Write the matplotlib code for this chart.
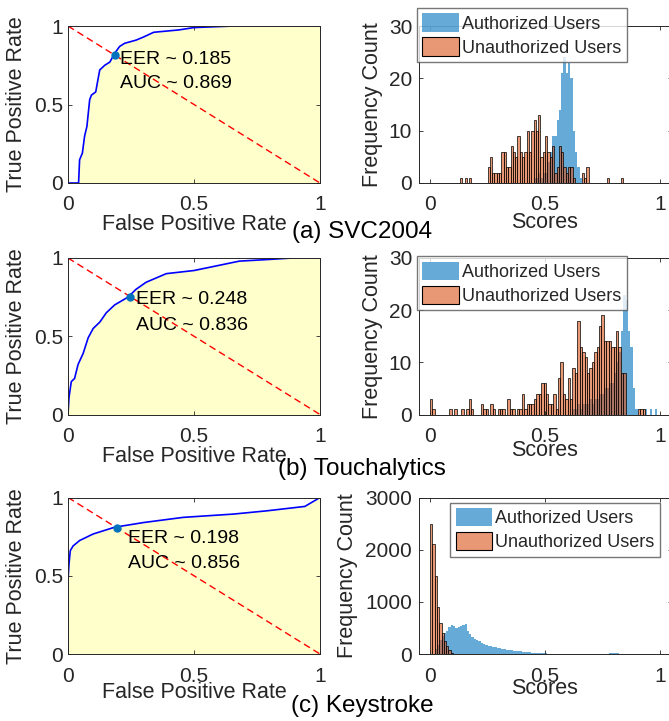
import matplotlib
matplotlib.use("Agg")
import matplotlib.pyplot as plt
import matplotlib.patches as mpatches
import numpy as np

plt.rcParams["font.family"] = ["Liberation Sans", "DejaVu Sans"]

# ROC curves
svc_fpr = [0, 0.042, 0.046, 0.057, 0.066, 0.075, 0.086, 0.093, 0.11, 0.119, 0.126, 0.146,
           0.166, 0.185, 0.205, 0.225, 0.27, 0.30, 0.34, 0.44, 0.50, 0.66, 1.0]
svc_tpr = [0, 0, 0.148, 0.19, 0.30, 0.36, 0.53, 0.56, 0.58, 0.66, 0.72, 0.75,
           0.77, 0.826, 0.87, 0.89, 0.91, 0.93, 0.96, 0.975, 0.99, 1.0, 1.0]
touch_fpr = [0, 0.004, 0.013, 0.026, 0.04, 0.06, 0.08, 0.10, 0.126, 0.152, 0.185, 0.238,
             0.27, 0.31, 0.39, 0.50, 0.59, 0.68, 0.79, 0.89, 1.0]
touch_tpr = [0, 0.11, 0.21, 0.23, 0.32, 0.39, 0.49, 0.55, 0.59, 0.65, 0.70, 0.75,
             0.80, 0.845, 0.90, 0.92, 0.95, 0.98, 0.99, 1.0, 1.0]
key_fpr = [0, 0, 0.004, 0.009, 0.02, 0.046, 0.1, 0.185, 0.30, 0.457, 0.656, 0.79, 0.94, 1.0]
key_tpr = [0, 0.47, 0.576, 0.66, 0.69, 0.725, 0.767, 0.81, 0.84, 0.873, 0.894, 0.915, 0.943, 1.0]

eer_points = [(0.185, 0.816), (0.245, 0.752), (0.196, 0.803)]
eer_values = [0.185, 0.248, 0.198]
auc_values = [0.869, 0.836, 0.856]
captions = ["(a) SVC2004", "(b) Touchalytics", "(c) Keystroke"]

# Score histograms: bin start, bin width, counts
svc_gen_start, svc_gen_width = 0.45, 0.01
svc_gen_counts = [1, 1, 2, 1, 2, 2, 4, 6, 9, 9, 12, 14, 21, 24, 21, 23, 20, 10, 6, 3, 1]
svc_imp_start, svc_imp_width = 0.13, 0.01
svc_imp_counts = [1, 0, 1, 0, 1, 0, 0, 0, 0, 0, 0, 0,
                  3, 5, 2, 2, 2, 2, 6, 6, 3, 3, 7, 6, 5, 9, 6, 5, 6, 10, 6, 10, 12, 10,
                  13, 5, 6, 9, 6, 5, 7, 2, 3, 7, 6, 3, 2, 3, 3, 1,
                  0, 0, 0, 2, 1, 3, 0, 0, 0, 0, 0, 0, 0, 0, 1, 0, 0, 0, 0, 0, 1]

touch_gen_start, touch_gen_width = 0.6195, 0.0105
touch_gen_counts = [1, 1, 2, 1, 2, 2, 2, 3, 2, 3, 3, 4, 4, 5, 5, 6, 6, 8, 10, 12, 16, 23, 22,
                    16, 13, 5, 1, 0, 0, 0, 1, 0, 1, 0, 1]
touch_imp_start, touch_imp_width = 0.0, 0.0105
touch_imp_counts = [3, 1, 0, 0, 0, 0, 0, 0, 1, 0, 1, 0, 0, 1, 0, 1, 3, 1, 0, 0,
                    0, 2, 1, 1, 0, 2, 1, 0, 1, 1, 1, 0, 3, 1, 1, 0, 1, 1, 4, 1,
                    2, 2, 2, 3, 4, 4, 6, 6, 4, 2, 2, 4, 1, 7, 10, 4, 3, 7, 3, 9,
                    8, 18, 13, 12, 11, 8, 9, 10, 12, 13, 17, 19, 14, 14, 14, 13, 13, 16, 13, 8,
                    8, 0, 0, 0, 0, 0, 1, 1, 1]

key_gen_start, key_gen_width = 0.02, 0.01
key_gen_counts = [100, 180, 270, 350, 400, 450, 520, 560, 540, 490, 510, 540, 560, 570, 450,
                  380, 330, 290, 270, 240, 215, 195, 175, 160, 150, 140, 130, 120, 110, 100,
                  90, 82, 77, 70, 65, 60, 52, 48, 45, 40, 35, 30, 27, 25, 20, 17, 14, 12,
                  10, 7, 5, 3, 2, 0, 0, 0, 0, 0, 0, 0, 0, 0, 0, 0, 0, 0, 0, 0, 0, 0, 0, 0,
                  0, 0, 0, 0, 10, 20, 25, 15]
key_imp_start, key_imp_width = 0.0, 0.01
key_imp_counts = [2500, 2100, 1500, 900, 600, 400, 250, 160, 80, 25]

hist_ymax = [30, 30, 3000]
hist_yticks = [[0, 10, 20, 30], [0, 10, 20, 30], [0, 1000, 2000, 3000]]

BLUE = (0, 0.447, 0.741)
ORANGE = (0.85, 0.325, 0.098)
GRAY = "#262626"

fig = plt.figure(figsize=(6.69, 7.21), dpi=100)
W, H = 669.0, 721.0


def rect(left, top, right, bottom):
    return [left / W, 1 - bottom / H, (right - left) / W, (bottom - top) / H]


rows = [(26, 183), (258, 414.5), (497.5, 654)]
roc_data = [(svc_fpr, svc_tpr), (touch_fpr, touch_tpr), (key_fpr, key_tpr)]
hist_data = [
    (svc_gen_start, svc_gen_width, svc_gen_counts, svc_imp_start, svc_imp_width, svc_imp_counts),
    (touch_gen_start, touch_gen_width, touch_gen_counts, touch_imp_start, touch_imp_width, touch_imp_counts),
    (key_gen_start, key_gen_width, key_gen_counts, key_imp_start, key_imp_width, key_imp_counts),
]
text_pos = [(0.205, 0.784, 0.636), (0.269, 0.732, 0.568), (0.238, 0.735, 0.576)]
roc_xlab_y = [-0.2, -0.2, -0.18]
hist_xlab_y = [-0.185, -0.16, -0.155]
hist_ylab_x = [-0.14, -0.14, -0.239]
caption_y = [232, 469, 706]


def style_axes(ax):
    for s in ax.spines.values():
        s.set_color(GRAY)
        s.set_linewidth(0.7)
    ax.tick_params(direction="in", length=3, width=0.6, top=True, right=True,
                   colors=GRAY, labelsize=15)
    ax.tick_params(axis="x", pad=9)
    ax.tick_params(axis="y", pad=3.5)


for i, (top, bottom) in enumerate(rows):
    # ROC panel
    ax = fig.add_axes(rect(68, top, 320, bottom))
    fpr, tpr = roc_data[i]
    ax.fill_between(fpr, tpr, 0, color="#FFFFCC", linewidth=0)
    ax.plot(fpr, tpr, color="#0000FF", lw=1.2)
    ax.plot([0, 1], [1, 0], color="#FF0000", lw=1.0, dashes=(5, 3))
    ex, ey = eer_points[i]
    ax.plot(ex, ey, "o", color=BLUE, ms=5)
    tx, ty1, ty2 = text_pos[i]
    ax.text(tx, ty1, f"EER ~ {eer_values[i]:.3f}", fontsize=14, va="center", ha="left")
    ax.text(tx, ty2, f"AUC ~ {auc_values[i]:.3f}", fontsize=14, va="center", ha="left")
    ax.set_xlim(0, 1)
    ax.set_ylim(0, 1)
    ax.set_xticks([0, 0.5, 1])
    ax.set_xticklabels(["0", "0.5", "1"])
    ax.set_yticks([0, 0.5, 1])
    ax.set_yticklabels(["0", "0.5", "1"])
    style_axes(ax)
    ax.set_xlabel("False Positive Rate", fontsize=15.5, color=GRAY)
    ax.set_ylabel("True Positive Rate", fontsize=15.5, color=GRAY)
    ax.xaxis.set_label_coords(0.5, roc_xlab_y[i])
    ax.yaxis.set_label_coords(-0.163, 0.5)

    # Histogram panel
    hx = fig.add_axes(rect(418.5, top, 671.5, bottom))
    gs, gw, gc, ist, iw, ic = hist_data[i]
    g_edges = gs + gw * np.arange(len(gc) + 1)
    hx.stairs(gc, g_edges, fill=True, color=BLUE, alpha=0.6, linewidth=0)
    i_left = ist + iw * np.arange(len(ic))
    hx.bar(i_left, ic, width=iw, align="edge", color=(*ORANGE, 0.6),
           edgecolor="black", linewidth=0.5)
    hx.set_xlim(-0.05, 1.05)
    hx.set_ylim(0, hist_ymax[i])
    hx.set_xticks([0, 0.5, 1])
    hx.set_xticklabels(["0", "0.5", "1"])
    hx.set_yticks(hist_yticks[i])
    style_axes(hx)
    hx.tick_params(axis="y", pad=4.5)
    hx.set_xlabel("Scores", fontsize=15.5, color=GRAY)
    hx.set_ylabel("Frequency Count", fontsize=15.5, color=GRAY)
    hx.xaxis.set_label_coords(0.5, hist_xlab_y[i])
    hx.yaxis.set_label_coords(hist_ylab_x[i], 0.5)

    handles = [mpatches.Patch(facecolor=(*BLUE, 0.6), edgecolor="none"),
               mpatches.Patch(facecolor=(*ORANGE, 0.6), edgecolor="black", linewidth=0.8)]
    labels = ["Authorized Users", "Unauthorized Users"]
    if i < 2:
        anchor = (-0.006, 1.115) if i == 0 else (-0.006, 1.01)
        loc = "upper left"
    else:
        anchor = (0.955, 0.968)
        loc = "upper right"
    leg = hx.legend(handles, labels, loc=loc, bbox_to_anchor=anchor, fontsize=13,
                    frameon=True, fancybox=False, borderaxespad=0, borderpad=0.3,
                    handlelength=2.0, handleheight=1.2, handletextpad=0.2,
                    labelspacing=0.25)
    leg.get_frame().set_edgecolor("#555555")
    leg.get_frame().set_linewidth(1.0)
    for t in leg.get_texts():
        t.set_color(GRAY)

    fig.text(362 / W, 1 - caption_y[i] / H, captions[i], fontsize=17.5,
             ha="center", va="center", color="black")

fig.savefig("out.png", dpi=100)
